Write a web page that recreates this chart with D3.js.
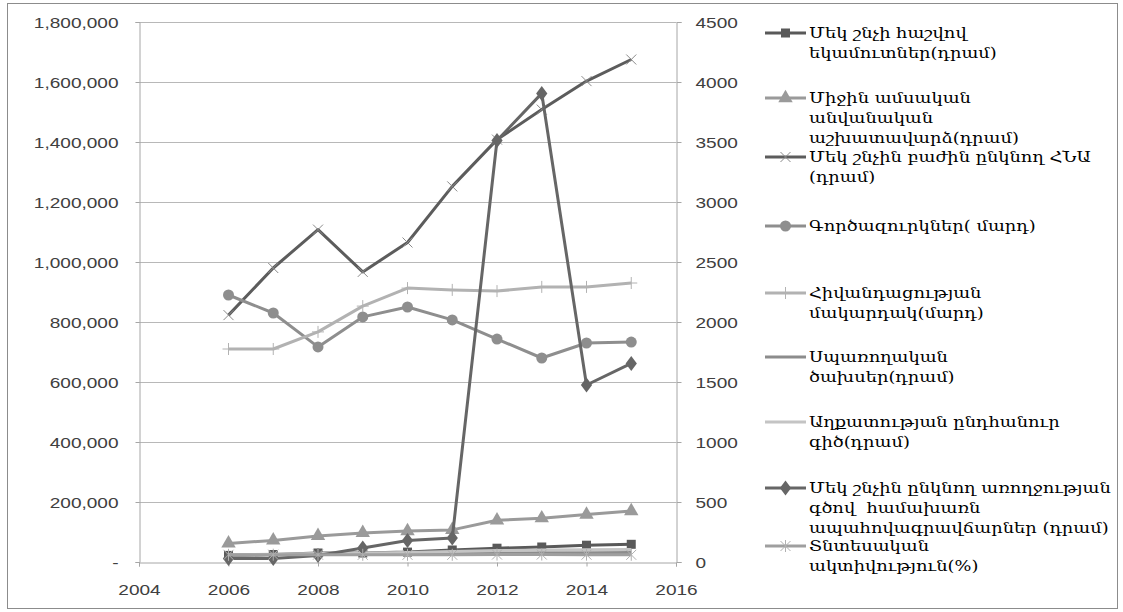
<!DOCTYPE html>
<html>
<head>
<meta charset="utf-8">
<script src="https://cdn.jsdelivr.net/npm/d3@7"></script>
<style>
  body { margin: 0; background: white; }
  text { font-family: "Liberation Sans", "DejaVu Sans", sans-serif; }
</style>
</head>
<body>
<script>
const years = [2006, 2007, 2008, 2009, 2010, 2011, 2012, 2013, 2014, 2015];

// values (left axis unless noted)
const incomePerCapita = [22000, 25000, 30000, 30000, 33000, 40000, 46000, 50000, 56000, 59000];
const avgWage = [62000, 72000, 87000, 97000, 103000, 107000, 139000, 146000, 158000, 170000];
const gniPerCapita = [823000, 980000, 1108000, 967000, 1065000, 1252000, 1408000, 1508000, 1603000, 1675000];
const unemployed = [890000, 830000, 717000, 817000, 850000, 807000, 743000, 680000, 730000, 733000];
const morbidity = [710000, 710000, 767000, 853000, 913000, 907000, 903000, 917000, 917000, 930000];
const consumption = [22000, 24000, 26000, 27000, 28000, 29000, 30000, 31000, 31000, 32000];
const povertyLine = [24000, 26000, 28000, 30000, 32000, 35000, 38000, 40000, 41000, 42000];
const healthPremiums = [12000, 12000, 22000, 47000, 72000, 80000, 1405000, 1562000, 590000, 662000];
const activityRate = [60, 61, 61, 60, 60, 60, 62, 62, 61, 60]; // right axis

const leftTicks = [0, 200000, 400000, 600000, 800000, 1000000, 1200000, 1400000, 1600000, 1800000];
const rightTicks = [0, 500, 1000, 1500, 2000, 2500, 3000, 3500, 4000, 4500];
const xTicks = [2004, 2006, 2008, 2010, 2012, 2014, 2016];

const series = [
  {name: ["Մեկ շնչի հաշվով", "եկամուտներ(դրամ)"], values: incomePerCapita, color: "#595959", marker: "square", axis: "left", ly: 33},
  {name: ["Միջին ամսական", "անվանական", "աշխատավարձ(դրամ)"], values: avgWage, color: "#9a9a9a", marker: "triangle", axis: "left", ly: 98},
  {name: ["Մեկ շնչին բաժին ընկնող ՀՆԱ", "(դրամ)"], values: gniPerCapita, color: "#5c5c5c", marker: "x", axis: "left", ly: 157},
  {name: ["Գործազուրկներ( մարդ)"], values: unemployed, color: "#8e8e8e", marker: "circle", axis: "left", ly: 226},
  {name: ["Հիվանդացության", "մակարդակ(մարդ)"], values: morbidity, color: "#b2b2b2", marker: "plus", axis: "left", ly: 293},
  {name: ["Սպառողական", "ծախսեր(դրամ)"], values: consumption, color: "#8c8c8c", marker: "none", axis: "left", ly: 357},
  {name: ["Աղքատության ընդհանուր", "գիծ(դրամ)"], values: povertyLine, color: "#c4c4c4", marker: "none", axis: "left", ly: 422},
  {name: ["Մեկ շնչին ընկնող առողջության", "գծով  համախառն", "ապահովագրավճարներ (դրամ)"], values: healthPremiums, color: "#666666", marker: "diamond", axis: "left", ly: 488},
  {name: ["Տնտեսական", "ակտիվություն(%)"], values: activityRate, color: "#9f9f9f", marker: "star", axis: "right", ly: 546}
];

const width = 1123, height = 612;
const plot = {left: 139, right: 676, top: 22, bottom: 562};
const stretch = 1.27;   // the original picture is widened, text too
const legendStretch = 1.19;

const svg = d3.select("body").append("svg")
  .attr("width", width)
  .attr("height", height);

// outer chart border
svg.append("rect")
  .attr("x", 7.5).attr("y", 3.5)
  .attr("width", 1110).attr("height", 605)
  .attr("fill", "white")
  .attr("stroke", "#8c8c8c")
  .attr("stroke-width", 1);

const x = d3.scaleLinear().domain([2004, 2016]).range([plot.left, plot.right]);
const yL = d3.scaleLinear().domain([0, 1800000]).range([plot.bottom, plot.top]);
const yR = d3.scaleLinear().domain([0, 4500]).range([plot.bottom, plot.top]);

// gridlines
svg.append("g")
  .selectAll("line")
  .data(leftTicks.slice(1))
  .join("line")
  .attr("x1", plot.left).attr("x2", plot.right)
  .attr("y1", d => Math.round(yL(d)) + 0.5).attr("y2", d => Math.round(yL(d)) + 0.5)
  .attr("stroke", "#b8b8b8")
  .attr("stroke-width", 1);

const fmt = d3.format(",");

// left axis
const gL = svg.append("g")
  .attr("transform", `translate(${plot.left + 0.5},0)`)
  .call(d3.axisLeft(yL).tickValues(leftTicks).tickSize(4).tickPadding(17)
    .tickFormat(d => d === 0 ? "-" : fmt(d)));

// right axis
const gR = svg.append("g")
  .attr("transform", `translate(${plot.right + 0.5},0)`)
  .call(d3.axisRight(yR).tickValues(rightTicks).tickSize(5).tickPadding(14).tickFormat(d3.format("d")));

// bottom axis
const gX = svg.append("g")
  .attr("transform", `translate(0,${plot.bottom + 0.5})`)
  .call(d3.axisBottom(x).tickValues(xTicks).tickSize(4).tickPadding(18).tickFormat(d3.format("d")));

[gL, gR, gX].forEach(g => {
  g.select(".domain").attr("stroke", "#a6a6a6");
  g.selectAll(".tick line").attr("stroke", "#a6a6a6");
  g.selectAll(".tick text")
    .attr("fill", "#404040")
    .style("font-size", "15px")
    .style("font-family", "'Liberation Sans', sans-serif");
});
// widen the labels like the original
gL.selectAll(".tick text").attr("x", -21 / stretch).attr("dy", "0.38em").attr("transform", `scale(${stretch},1)`);
gR.selectAll(".tick text").attr("x", 19 / stretch).attr("dy", "0.38em").attr("transform", `scale(${stretch},1)`);
gX.selectAll(".tick text").attr("transform", `scale(${stretch},1)`);

// marker drawing
function drawMarker(g, type, color, cx, cy) {
  if (type === "square") {
    g.append("rect").attr("x", cx - 4.5).attr("y", cy - 4.5).attr("width", 9).attr("height", 9).attr("fill", color);
  } else if (type === "triangle") {
    g.append("path").attr("d", d3.symbol(d3.symbolTriangle, 90)()).attr("transform", `translate(${cx},${cy})`).attr("fill", color);
  } else if (type === "circle") {
    g.append("circle").attr("cx", cx).attr("cy", cy).attr("r", 5.5).attr("fill", color);
  } else if (type === "diamond") {
    g.append("path").attr("d", d3.symbol(d3.symbolDiamond, 65)()).attr("transform", `translate(${cx},${cy}) scale(1.3,1)`).attr("fill", color);
  } else if (type === "x") {
    g.append("path").attr("d", `M${cx - 5},${cy - 5}L${cx + 5},${cy + 5}M${cx - 5},${cy + 5}L${cx + 5},${cy - 5}`)
      .attr("stroke", "#8a8a8a").attr("stroke-width", 1).attr("fill", "none");
  } else if (type === "plus") {
    g.append("path").attr("d", `M${cx - 6},${cy}L${cx + 6},${cy}M${cx},${cy - 6}L${cx},${cy + 6}`)
      .attr("stroke", color).attr("stroke-width", 1).attr("fill", "none");
  } else if (type === "star") {
    g.append("path").attr("d", `M${cx - 5},${cy - 5}L${cx + 5},${cy + 5}M${cx - 5},${cy + 5}L${cx + 5},${cy - 5}M${cx},${cy - 6}L${cx},${cy + 6}`)
      .attr("stroke", "#b0b0b0").attr("stroke-width", 1).attr("fill", "none");
  }
}

const lineGen = d3.line();

series.forEach(s => {
  const yS = s.axis === "right" ? yR : yL;
  const pts = years.map((yr, i) => [x(yr), yS(s.values[i])]);
  const g = svg.append("g");
  g.append("path")
    .attr("d", lineGen(pts))
    .attr("fill", "none")
    .attr("stroke", s.color)
    .attr("stroke-width", 3)
    .attr("stroke-linejoin", "round");
  pts.forEach(p => drawMarker(g, s.marker, s.color, p[0], p[1]));
});

// legend
const legend = svg.append("g");
series.forEach(s => {
  const g = legend.append("g");
  g.append("line")
    .attr("x1", 765).attr("x2", 806)
    .attr("y1", s.ly).attr("y2", s.ly)
    .attr("stroke", s.color).attr("stroke-width", 3);
  drawMarker(g, s.marker, s.color, 785.5, s.ly);
  const t = g.append("text")
    .attr("transform", `translate(809,${s.ly}) scale(${legendStretch},1)`)
    .attr("fill", "#000")
    .style("font-family", "'DejaVu Serif', serif")
    .style("font-size", "15px");
  s.name.forEach((line, i) => {
    t.append("tspan")
      .attr("x", 0)
      .attr("dy", i === 0 ? "0.35em" : "20px")
      .style("white-space", "pre")
      .text(line);
  });
});
</script>
</body>
</html>
